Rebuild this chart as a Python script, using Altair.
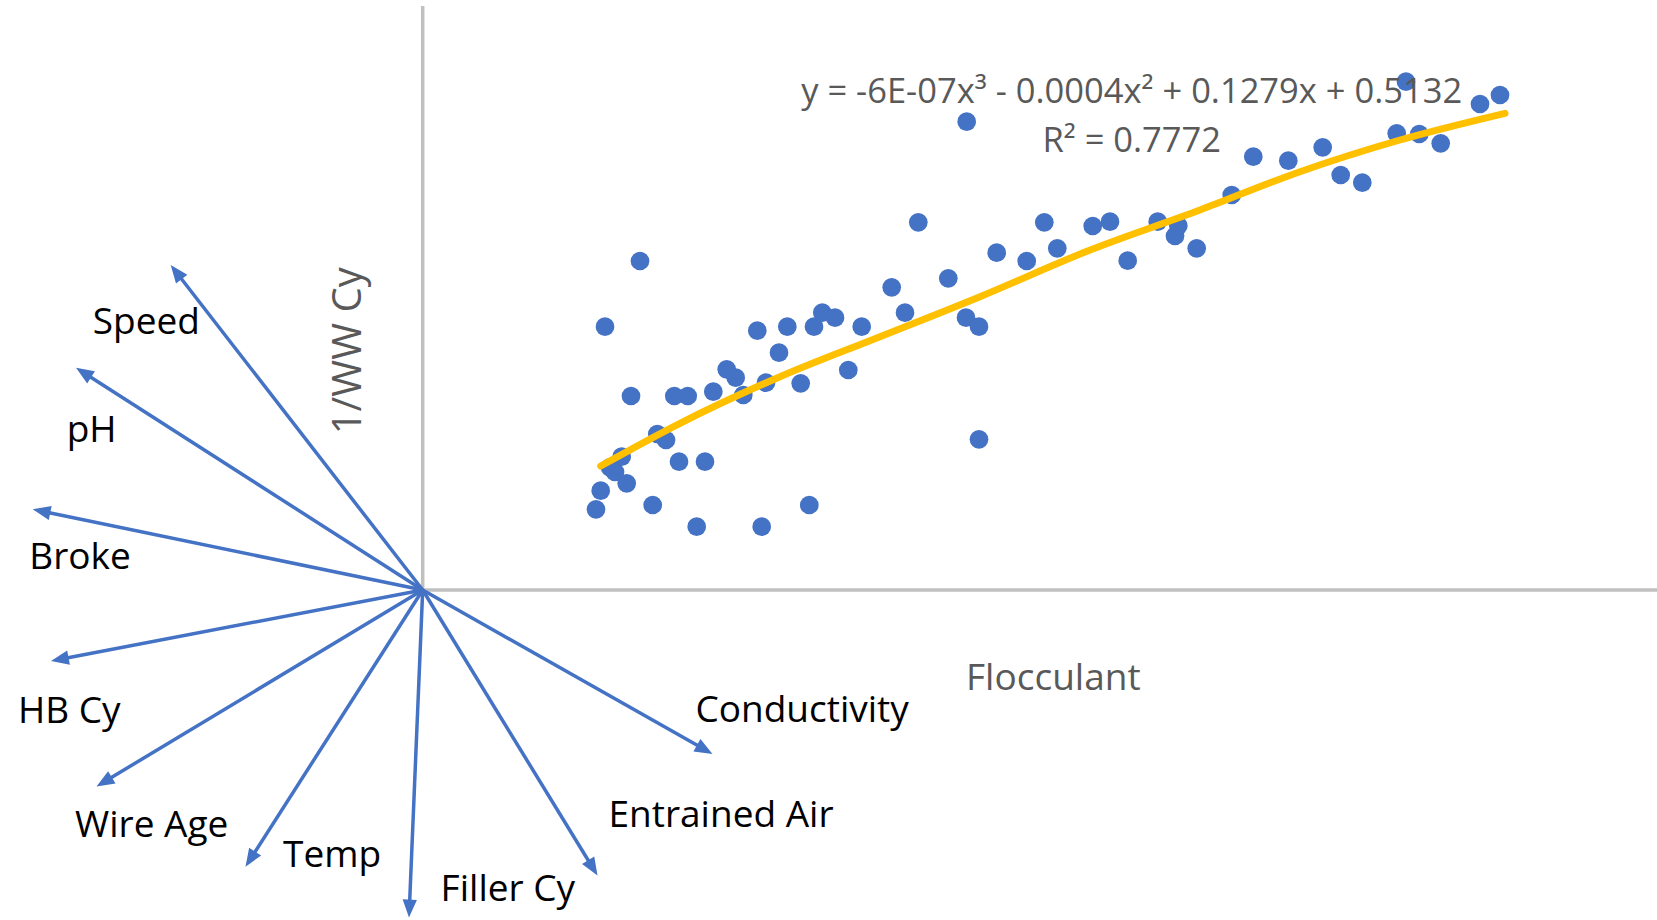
import altair as alt
import pandas as pd

# ---------------- data ----------------
flocculant = [21.73, 18.23, 20.83, 25.16, 26.5, 29.06, 30.4, 31.3, 32.06, 33.46,
              35.63, 34.33, 36.46, 37.8, 39.13, 39.96, 41.23, 42.56, 43.9, 46.9,
              48.23, 52.56, 54.33, 55.63, 55.63, 57.4, 60.4, 63.46, 23.46, 24.33,
              19.9, 18.73, 19.23, 20.4, 17.8, 17.33, 23.0, 25.63, 28.23, 38.66,
              27.4, 33.9, 54.4, 49.56, 62.16, 98.33, 107.73, 105.73, 97.4, 99.66,
              101.8, 90.0, 83.06, 86.56, 91.8, 93.96, 80.9, 67.0, 68.73, 73.5,
              75.56, 75.23, 77.4, 70.5]
ww_cy = [32.9, 26.33, 19.4, 19.4, 19.4, 19.83, 22.07, 21.23, 19.5, 25.93,
         23.73, 20.73, 26.33, 20.67, 26.33, 27.73, 27.23, 22.0, 26.33, 30.27,
         27.73, 31.17, 27.23, 26.33, 15.07, 33.73, 32.9, 34.17, 15.6, 15.0,
         13.33, 12.27, 11.8, 10.67, 9.93, 8.07, 8.5, 12.83, 12.83, 8.5,
         6.33, 6.33, 46.83, 36.77, 36.77, 50.83, 49.5, 48.6, 45.67, 45.6,
         44.67, 44.27, 43.33, 42.93, 41.5, 40.73, 39.5, 36.4, 36.83, 36.83,
         36.43, 35.4, 34.17, 32.93]

# polynomial trendline as drawn in the reference
trend_x = [17.8, 25.73, 35.73, 45.73, 55.73, 66.56, 77.73, 87.73, 97.73, 108.23]
trend_y = [12.4, 16.67, 21.33, 25.33, 29.33, 33.93, 38.0, 41.83, 45.0, 47.67]

variables = ["Speed", "pH", "Broke", "HB Cy", "Wire Age", "Temp",
             "Filler Cy", "Entrained Air", "Conductivity"]
loading_x = [-25.2, -34.67, -39.0, -37.17, -32.62, -17.72, -1.37, 17.48, 28.98]
loading_y = [32.5, 22.23, 8.07, -7.1, -19.65, -27.67, -32.75, -28.55, -16.4]
label_x = [-33.0, -35.6, -39.34, -40.47, -34.77, -13.97, 1.79, 18.58, 27.27]
label_y = [25.6, 14.8, 2.1, -13.3, -24.7, -27.7, -31.1, -23.7, -13.2]

equation = "y = -6E-07x³ - 0.0004x² + 0.1279x + 0.5132"
r_squared = "R² = 0.7772"
x_title = "Flocculant"
y_title = "1/WW Cy"

# ---------------- frame ----------------
X_DOMAIN = [-42.27, 123.43]
Y_DOMAIN = [-33.0, 59.0]
AXIS_TOP = 58.4

BLUE = "#4472C4"
GOLD = "#FFC000"
GRAY_AXIS = "#C0C0C0"
GRAY_TEXT = "#595959"
FONT = "Open Sans"

xs = alt.Scale(domain=X_DOMAIN, nice=False, zero=False)
ys = alt.Scale(domain=Y_DOMAIN, nice=False, zero=False)


def X(f):
    return alt.X(f, type="quantitative", scale=xs, axis=None)


def Y(f):
    return alt.Y(f, type="quantitative", scale=ys, axis=None)


points = pd.DataFrame({"flocculant": flocculant, "ww_cy": ww_cy})
trend_df = pd.DataFrame({"flocculant": trend_x, "ww_cy": trend_y})
loads = pd.DataFrame({"variable": variables, "lx": loading_x, "ly": loading_y})
labels = pd.DataFrame({"variable": variables, "tx": label_x, "ty": label_y})
axes_df = pd.DataFrame({"x0": [0.0, 0.0], "y0": [0.0, 0.0],
                        "x1": [0.0, X_DOMAIN[1]], "y1": [AXIS_TOP, 0.0]})
fit_text = pd.DataFrame({"text": [equation, r_squared],
                         "tx": [70.9, 70.9], "ty": [48.67, 43.83]})

axes_layer = alt.Chart(axes_df).mark_rule(color=GRAY_AXIS, strokeWidth=3.5).encode(
    x=X("x0"), y=Y("y0"), x2=alt.X2("x1"), y2=alt.Y2("y1"))

arrow_base = alt.Chart(loads).transform_calculate(
    ox="0", oy="0",
    len="sqrt(datum.lx*datum.lx + datum.ly*datum.ly)",
).transform_calculate(
    ex="datum.lx - datum.lx/datum.len*1.2",
    ey="datum.ly - datum.ly/datum.len*1.2",
    ang="(atan2(datum.lx, datum.ly)*180/PI + 360) % 360",
)

shafts = arrow_base.mark_rule(color=BLUE, strokeWidth=3.5).encode(
    x=X("ox"), y=Y("oy"), x2=alt.X2("ex"), y2=alt.Y2("ey"))

heads = arrow_base.mark_point(
    shape="M0,0L-0.8,2L0.8,2Z", filled=True, size=320, color=BLUE, opacity=1
).encode(x=X("lx"), y=Y("ly"), angle=alt.Angle("ang:Q", scale=None))

dots = alt.Chart(points).mark_circle(size=350, color=BLUE, opacity=1).encode(
    x=X("flocculant"), y=Y("ww_cy"))

trend = alt.Chart(trend_df).mark_line(
    color=GOLD, strokeWidth=7, strokeCap="round", interpolate="monotone"
).encode(x=X("flocculant"), y=Y("ww_cy"))

var_labels = alt.Chart(labels).mark_text(
    font=FONT, fontSize=37, color="#000000", align="left", baseline="alphabetic"
).encode(x=X("tx"), y=Y("ty"), text="variable:N")

fit_labels = alt.Chart(fit_text).mark_text(
    font=FONT, fontSize=34.5, color=GRAY_TEXT, align="center", baseline="alphabetic"
).encode(x=X("tx"), y=Y("ty"), text="text:N")

x_title_layer = alt.Chart(pd.DataFrame({"t": [x_title], "tx": [63.06], "ty": [-10.0]})).mark_text(
    font=FONT, fontSize=37, color=GRAY_TEXT, align="center", baseline="alphabetic"
).encode(x=X("tx"), y=Y("ty"), text="t:N")

y_title_layer = alt.Chart(pd.DataFrame({"t": [y_title], "tx": [-6.17], "ty": [23.92]})).mark_text(
    font=FONT, fontSize=40, color=GRAY_TEXT, align="center", baseline="alphabetic", angle=270
).encode(x=X("tx"), y=Y("ty"), text="t:N")

chart = alt.layer(
    axes_layer, shafts, heads, dots, trend, var_labels, fit_labels,
    x_title_layer, y_title_layer
).properties(
    width=1657, height=920,
    autosize=alt.AutoSizeParams(type="none"),
    padding=0,
    background="white",
).configure_view(stroke=None)

chart.save("out.html", embed_options={"renderer": "svg", "actions": False})
